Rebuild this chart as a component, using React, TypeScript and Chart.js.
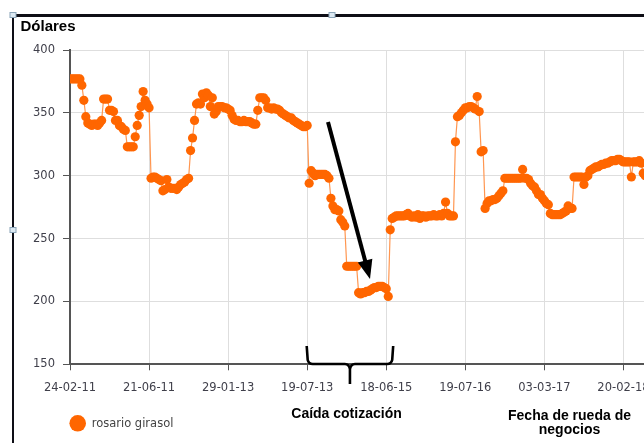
import React, { useEffect, useRef } from 'react';
import { Chart, registerables } from 'chart.js';

Chart.register(...registerables);

// Tick labels shown every `ticksEvery` trading sessions
const tickLabels = ['24-02-11', '21-06-11', '29-01-13', '19-07-13', '18-06-15', '19-07-16', '03-03-17', '20-02-18'];
const ticksEvery = 40;
const seriesName = 'rosario girasol';
const yTicks = [150, 200, 250, 300, 350, 400];

// Price (USD) per trading session
const values = [
  377, 377, 377, 377, 377, 377, 372, 360, 347, 342,
  341, 340, 341, 341, 340, 342, 344, 361, 361, 361,
  352, 352, 351, 344, 344, 340, 339, 337, 336, 323,
  323, 323, 323, 331, 340, 348, 355, 367, 360, 357,
  354, 298, 299, 299, 298, 297, 296, 288, 289, 297,
  291, 290, 290, 290, 289, 291, 293, 294, 295, 297,
  298, 320, 330, 344, 357, 358, 357, 365, 362, 366,
  364, 355, 362, 349, 351, 355, 355, 355, 354, 354,
  353, 352, 348, 345, 344, 344, 343, 343, 344, 343,
  343, 343, 342, 341, 341, 352, 362, 362, 362, 360,
  354, 354, 353, 354, 353, 353, 352, 350, 349, 348,
  347, 346, 346, 344, 343, 342, 341, 340, 339, 339,
  340, 294, 304, 302, 300, 301, 301, 301, 301, 301,
  300, 298, 282, 276, 273, 273, 272, 265, 263, 260,
  228, 228, 228, 228, 228, 228, 207, 206, 207, 207,
  208, 208, 209, 210, 211, 211, 212, 212, 212, 211,
  210, 204, 257, 266, 267, 268, 268, 268, 268, 268,
  269, 270, 268, 267, 268, 267, 269, 266, 268, 268,
  267, 268, 268, 268, 269, 268, 268, 269, 268, 270,
  279, 270, 268, 268, 268, 327, 347, 348, 350, 352,
  354, 354, 355, 355, 354, 353, 363, 351, 319, 320,
  274, 278, 280, 280, 281, 281, 282, 284, 286, 288,
  298, 298, 298, 298, 298, 298, 298, 298, 298, 305,
  298, 298, 297, 294, 292, 291, 288, 285, 285, 282,
  280, 278, 277, 270, 269, 269, 269, 269, 269, 270,
  271, 272, 276, 274, 274, 299, 299, 299, 299, 299,
  293, 299, 300, 304, 305, 306, 307, 307, 308, 309,
  309, 310, 310, 311, 312, 312, 312, 313, 313, 312,
  311, 311, 311, 311, 299, 311, 311, 311, 312, 310,
  302, 300, 302, 303, 304, 305, 305,
];

const ORANGE = '#FF6600';
const W = 680;
const H = 443;

export default function App() {
  const ref = useRef<HTMLCanvasElement>(null);

  useEffect(() => {
    if (!ref.current) return;
    const points = values.map((v, i) => ({ x: i, y: v }));

    const annotations = {
      id: 'annotations',
      afterDraw(chart: any) {
        const ctx = chart.ctx as CanvasRenderingContext2D;
        const xs = chart.scales.x;
        ctx.save();
        // document frame (left + top edges) and selection handles
        ctx.fillStyle = '#0e0e16';
        ctx.fillRect(12, 14, 644, 3);
        ctx.fillRect(12, 14, 2, H);
        const handle = (x: number, y: number) => {
          ctx.fillStyle = '#dce9f2';
          ctx.fillRect(x - 3, y - 2.5, 6, 5);
          ctx.strokeStyle = '#8aa4b8';
          ctx.lineWidth = 1;
          ctx.strokeRect(x - 3, y - 2.5, 6, 5);
        };
        handle(13, 15);
        handle(332, 15);
        handle(13, 230);

        // "Dólares" axis title
        ctx.fillStyle = '#000';
        ctx.font = 'bold 15px "Liberation Sans", Arial, sans-serif';
        ctx.textAlign = 'left';
        ctx.textBaseline = 'alphabetic';
        ctx.fillText('Dólares', 20.5, 30.5);

        // arrow
        const ax0 = 328, ay0 = 122, tipX = 370, tipY = 279;
        const dx = tipX - ax0, dy = tipY - ay0;
        const len = Math.hypot(dx, dy);
        const ux = dx / len, uy = dy / len;
        const headL = 19, headW = 7.5;
        const bx = tipX - ux * headL, by = tipY - uy * headL;
        ctx.strokeStyle = '#000';
        ctx.lineWidth = 4;
        ctx.lineCap = 'butt';
        ctx.beginPath();
        ctx.moveTo(ax0, ay0);
        ctx.lineTo(bx + ux * 2, by + uy * 2);
        ctx.stroke();
        ctx.fillStyle = '#000';
        ctx.beginPath();
        ctx.moveTo(tipX, tipY);
        ctx.lineTo(bx - uy * headW, by + ux * headW);
        ctx.lineTo(bx + uy * headW, by - ux * headW);
        ctx.closePath();
        ctx.fill();

        // curly brace under the fall
        const L = xs.getPixelForValue(120) - 0.5;
        const R = xs.getPixelForValue(163.5);
        const M = (L + R) / 2;
        const top = 346, base = 364, stem = 384;
        ctx.lineWidth = 2.6;
        ctx.lineJoin = 'round';
        ctx.beginPath();
        ctx.moveTo(L, top);
        ctx.lineTo(L + 1, base - 4);
        ctx.quadraticCurveTo(L + 2, base, L + 6, base);
        ctx.lineTo(M - 5, base);
        ctx.quadraticCurveTo(M - 1, base, M, base + 5);
        ctx.lineTo(M, stem);
        ctx.moveTo(M, base + 5);
        ctx.quadraticCurveTo(M + 1, base, M + 5, base);
        ctx.lineTo(R - 6, base);
        ctx.quadraticCurveTo(R - 2, base, R - 1, base - 4);
        ctx.lineTo(R, top);
        ctx.stroke();

        // annotation texts
        ctx.font = 'bold 14px "Liberation Sans", Arial, sans-serif';
        ctx.textAlign = 'center';
        ctx.fillText('Caída cotización', 346.5, 418);
        ctx.fillText('Fecha de rueda de', 569.5, 420);
        ctx.fillText('negocios', 569.5, 434);

        // legend
        ctx.fillStyle = ORANGE;
        ctx.beginPath();
        ctx.arc(77.7, 423.3, 8.3, 0, Math.PI * 2);
        ctx.fill();
        ctx.fillStyle = '#444';
        ctx.font = '11.5px "DejaVu Sans", Verdana, sans-serif';
        ctx.textAlign = 'left';
        ctx.fillText(seriesName, 91.7, 426.5);
        ctx.restore();
      },
    };

    const chart = new Chart(ref.current, {
      type: 'line',
      data: {
        datasets: [
          {
            label: seriesName,
            data: points,
            borderColor: '#FF9650',
            borderWidth: 1.2,
            pointRadius: 4.6,
            pointBorderWidth: 0,
            pointBackgroundColor: ORANGE,
            pointBorderColor: ORANGE,
            tension: 0,
          },
        ],
      },
      options: {
        responsive: false,
        animation: false,
        events: [],
        layout: { padding: { top: 50, left: 0, right: 17, bottom: 0 } },
        plugins: {
          legend: { display: false },
          tooltip: { enabled: false },
          title: { display: false },
        },
        scales: {
          x: {
            type: 'linear',
            min: 0,
            max: 300,
            afterBuildTicks: (scale: any) => {
              scale.ticks = tickLabels.map((_, i) => ({ value: i * ticksEvery }));
            },
            afterFit: (scale: any) => {
              scale.height = H - 364.3;
            },
            ticks: {
              autoSkip: false,
              maxRotation: 0,
              padding: 11,
              color: '#3f3f4a',
              font: { family: '"DejaVu Sans", Verdana, sans-serif', size: 11.5 },
              callback: (v: any) => tickLabels[Math.round(Number(v) / ticksEvery)] ?? '',
            },
            grid: { color: '#dedede', lineWidth: 1, tickLength: 6, tickColor: '#555' },
            border: { color: '#555', width: 2 },
          },
          y: {
            min: 150,
            max: 400,
            afterBuildTicks: (scale: any) => {
              scale.ticks = yTicks.map((v) => ({ value: v }));
            },
            afterFit: (scale: any) => {
              scale.width = 70;
            },
            ticks: {
              padding: 8,
              color: '#3f3f4a',
              font: { family: '"DejaVu Sans", Verdana, sans-serif', size: 11.5 },
            },
            grid: { color: '#dedede', lineWidth: 1, tickLength: 7, tickColor: '#555' },
            border: { color: '#555', width: 2 },
          },
        },
      },
      plugins: [annotations],
    });
    return () => chart.destroy();
  }, []);

  return (
    <div
      style={{
        position: 'absolute',
        left: 0,
        top: 0,
        width: 644,
        height: 443,
        overflow: 'hidden',
        background: '#fff',
      }}
    >
      <canvas ref={ref} width={W} height={H} style={{ display: 'block', width: W, height: H }} />
    </div>
  );
}
